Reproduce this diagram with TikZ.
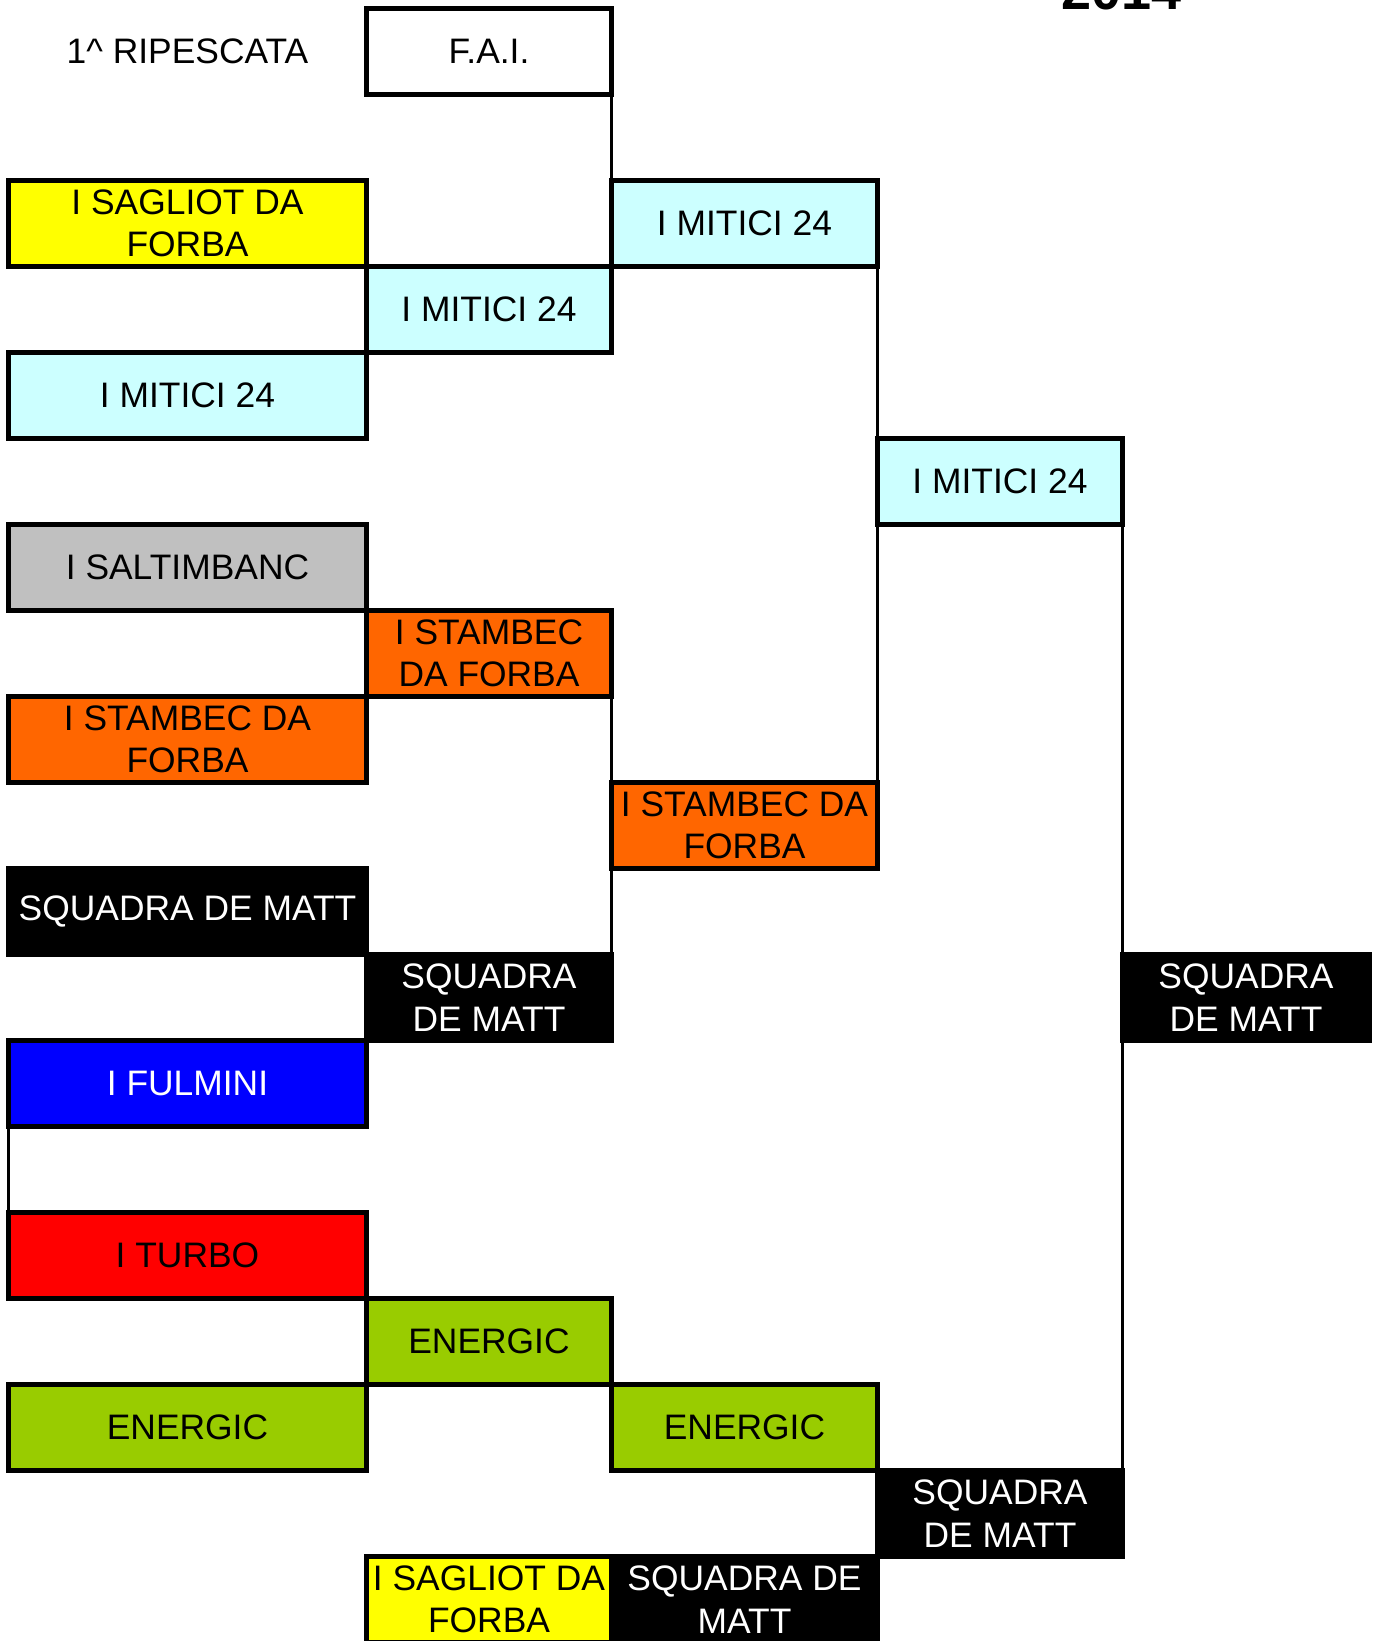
\documentclass[tikz,border=0pt]{standalone}
\usepackage{fontspec}
\setmainfont{Liberation Sans}
\definecolor{tyellow}{HTML}{FFFF00}
\definecolor{tcyan}{HTML}{CCFFFF}
\definecolor{tgray}{HTML}{C0C0C0}
\definecolor{torange}{HTML}{FF6600}
\definecolor{tblue}{HTML}{0000FF}
\definecolor{tred}{HTML}{FF0000}
\definecolor{tgreen}{HTML}{99CC00}
\begin{document}
\begin{tikzpicture}[x=1pt,y=-1pt,
  box/.style={draw=black, line width=5pt, outer sep=0pt, inner sep=0pt,
    minimum height=86pt, align=center, font=\fontsize{35.4}{42.5}\selectfont},
  colA/.style={minimum width=358pt},
  colB/.style={minimum width=245pt},
  colC/.style={minimum width=266pt},
  colD/.style={minimum width=245pt},
  colE/.style={minimum width=247pt},
  yel/.style={box, fill=tyellow},
  cya/.style={box, fill=tcyan},
  gry/.style={box, fill=tgray},
  ora/.style={box, fill=torange},
  blu/.style={box, fill=tblue, text=white},
  rdd/.style={box, fill=tred},
  grn/.style={box, fill=tgreen},
  blk/.style={box, fill=black, text=white},
  wht/.style={box, fill=white},
  conn/.style={draw=black, line width=3.5pt}
]
\useasboundingbox (0,0) rectangle (1375,1641);
\fill[white] (0,0) rectangle (1375,1641);

\begin{scope}[shift={(-1.5,-1.5)}]
\node[font=\bfseries\fontsize{54}{60}\selectfont, anchor=base, inner sep=0pt] (year) at (1123,11) {2014};

\node[font=\fontsize{35.4}{42.5}\selectfont, inner sep=0pt] (rip) at (189,53) {1\textasciicircum{} RIPESCATA};
\node[wht, colB] (fai) at (490.5,53) {F.A.I.};

\node[yel, colA] (sag1) at (189,225) {I SAGLIOT DA\\FORBA};
\node[cya, colC] (m3) at (746,225) {I MITICI 24};
\node[cya, colB] (m2) at (490.5,311) {I MITICI 24};
\node[cya, colA] (m1) at (189,397) {I MITICI 24};
\node[cya, colD] (m4) at (1001.5,483) {I MITICI 24};
\node[gry, colA] (sal) at (189,569) {I SALTIMBANC};
\node[ora, colB] (s2) at (490.5,655) {I STAMBEC\\DA FORBA};
\node[ora, colA] (s1) at (189,741) {I STAMBEC DA\\FORBA};
\node[ora, colC] (s3) at (746,827) {I STAMBEC DA\\FORBA};
\node[blk, colA] (q1) at (189,913) {SQUADRA DE MATT};
\node[blk, colB] (q2) at (490.5,999) {SQUADRA\\DE MATT};
\node[blk, colE] (q5) at (1247.5,999) {SQUADRA\\DE MATT};
\node[blu, colA] (ful) at (189,1085) {I FULMINI};
\node[rdd, colA] (tur) at (189,1257) {I TURBO};
\node[grn, colB] (e2) at (490.5,1343) {ENERGIC};
\node[grn, colA] (e1) at (189,1429) {ENERGIC};
\node[grn, colC] (e3) at (746,1429) {ENERGIC};
\node[blk, colD] (q4) at (1001.5,1515) {SQUADRA\\DE MATT};
\node[yel, colB] (sag2) at (490.5,1601) {I SAGLIOT DA\\FORBA};
\node[blk, colC] (q3) at (746,1601) {SQUADRA DE\\MATT};

\draw[conn] (fai.south east) -- (m3.north west);
\draw[conn] (m3.south east) -- (m4.north west);
\draw[conn] (m4.south west) -- (s3.north east);
\draw[conn] (s2.south east) -- (s3.north west);
\draw[conn] (s3.south west) -- (q2.north east);
\draw[conn] (m4.south east) -- (q5.north west);
\draw[conn] (q5.south west) -- (q4.north east);
\draw[conn] (ful.south west) -- (tur.north west);
\end{scope}
\end{tikzpicture}
\end{document}
